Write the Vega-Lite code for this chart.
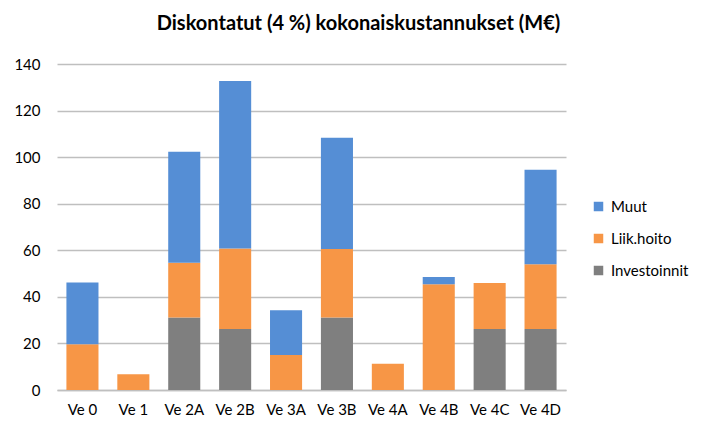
{
  "$schema": "https://vega.github.io/schema/vega-lite/v6.json",
  "autosize": "none",
  "width": 509,
  "height": 326,
  "padding": {"left": 57, "top": 64, "right": 151, "bottom": 47},
  "background": "white",
  "title": {
    "text": "Diskontatut (4 %) kokonaiskustannukset (M€)",
    "font": "Lato",
    "fontSize": 20,
    "fontWeight": "bold",
    "color": "#000000",
    "anchor": "middle",
    "frame": "group",
    "dx": 47,
    "offset": 23
  },
  "data": {
    "values": [
      {"ve": "Ve 0", "cat": "Investoinnit", "v": 0},
      {"ve": "Ve 0", "cat": "Liik.hoito", "v": 19.7},
      {"ve": "Ve 0", "cat": "Muut", "v": 26.5},
      {"ve": "Ve 1", "cat": "Investoinnit", "v": 0},
      {"ve": "Ve 1", "cat": "Liik.hoito", "v": 6.8},
      {"ve": "Ve 1", "cat": "Muut", "v": 0},
      {"ve": "Ve 2A", "cat": "Investoinnit", "v": 31.1},
      {"ve": "Ve 2A", "cat": "Liik.hoito", "v": 23.6},
      {"ve": "Ve 2A", "cat": "Muut", "v": 47.6},
      {"ve": "Ve 2B", "cat": "Investoinnit", "v": 26.2},
      {"ve": "Ve 2B", "cat": "Liik.hoito", "v": 34.6},
      {"ve": "Ve 2B", "cat": "Muut", "v": 71.9},
      {"ve": "Ve 3A", "cat": "Investoinnit", "v": 0},
      {"ve": "Ve 3A", "cat": "Liik.hoito", "v": 15.0},
      {"ve": "Ve 3A", "cat": "Muut", "v": 19.3},
      {"ve": "Ve 3B", "cat": "Investoinnit", "v": 31.1},
      {"ve": "Ve 3B", "cat": "Liik.hoito", "v": 29.4},
      {"ve": "Ve 3B", "cat": "Muut", "v": 47.8},
      {"ve": "Ve 4A", "cat": "Investoinnit", "v": 0},
      {"ve": "Ve 4A", "cat": "Liik.hoito", "v": 11.3},
      {"ve": "Ve 4A", "cat": "Muut", "v": 0},
      {"ve": "Ve 4B", "cat": "Investoinnit", "v": 0},
      {"ve": "Ve 4B", "cat": "Liik.hoito", "v": 45.4},
      {"ve": "Ve 4B", "cat": "Muut", "v": 3.1},
      {"ve": "Ve 4C", "cat": "Investoinnit", "v": 26.2},
      {"ve": "Ve 4C", "cat": "Liik.hoito", "v": 19.7},
      {"ve": "Ve 4C", "cat": "Muut", "v": 0},
      {"ve": "Ve 4D", "cat": "Investoinnit", "v": 26.2},
      {"ve": "Ve 4D", "cat": "Liik.hoito", "v": 27.8},
      {"ve": "Ve 4D", "cat": "Muut", "v": 40.6}
    ]
  },
  "mark": {"type": "bar"},
  "encoding": {
    "x": {
      "field": "ve",
      "type": "nominal",
      "sort": null,
      "title": null,
      "scale": {"paddingInner": 0.37, "paddingOuter": 0.185},
      "axis": {
        "labelAngle": 0,
        "labelFont": "Lato",
        "labelFontSize": 15,
        "labelColor": "#000000",
        "labelPadding": 12,
        "ticks": false,
        "domainColor": "#BFBFBF",
        "domainWidth": 1.5
      }
    },
    "y": {
      "field": "v",
      "type": "quantitative",
      "aggregate": "sum",
      "stack": "zero",
      "title": null,
      "scale": {"domain": [0, 140], "nice": false},
      "axis": {
        "values": [0, 20, 40, 60, 80, 100, 120, 140],
        "labelFont": "Lato",
        "labelFontSize": 15,
        "labelColor": "#000000",
        "labelPadding": 17,
        "ticks": false,
        "domain": false,
        "gridColor": "#BFBFBF",
        "gridWidth": 1.5
      }
    },
    "color": {
      "field": "cat",
      "type": "nominal",
      "title": null,
      "scale": {
        "domain": ["Muut", "Liik.hoito", "Investoinnit"],
        "range": ["#558ED5", "#F79646", "#7F7F7F"]
      },
      "legend": {
        "orient": "none",
        "legendX": 534,
        "legendY": 135,
        "symbolType": "square",
        "symbolSize": 90,
        "symbolStrokeWidth": 0,
        "labelFont": "Lato",
        "labelFontSize": 15,
        "labelColor": "#000000",
        "labelOffset": 5,
        "rowPadding": 16
      }
    },
    "order": {"field": "cat", "sort": "ascending"}
  },
  "config": {
    "view": {"stroke": null}
  }
}
